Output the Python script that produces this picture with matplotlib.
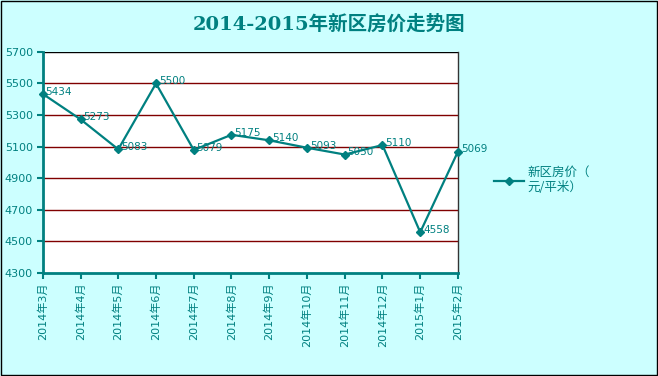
import matplotlib.pyplot as plt
from matplotlib.patches import Rectangle

plt.rcParams['font.family'] = ['DejaVu Sans', 'Noto Sans CJK SC']

months = ['2014年3月', '2014年4月', '2014年5月', '2014年6月', '2014年7月', '2014年8月',
          '2014年9月', '2014年10月', '2014年11月', '2014年12月', '2015年1月', '2015年2月']
prices = [5434, 5273, 5083, 5500, 5079, 5175, 5140, 5093, 5050, 5110, 4558, 5069]
yticks = [4300, 4500, 4700, 4900, 5100, 5300, 5500, 5700]

teal = '#008080'
bg = '#CCFFFF'
grid_c = '#800000'

fig = plt.figure(figsize=(6.58, 3.76), dpi=100, facecolor=bg)
fig.patches.append(Rectangle((0.002, 0.003), 0.996, 0.994, transform=fig.transFigure,
                             fill=False, edgecolor='black', linewidth=1.0))

ax = fig.add_axes([0.065, 0.274, 0.631, 0.588])
ax.set_facecolor('white')
x = list(range(len(months)))
ax.plot(x, prices, color=teal, linewidth=1.6, marker='D', markersize=4, zorder=3, clip_on=False,
        label='新区房价（\n元/平米）')
for xi, v in zip(x, prices):
    ax.annotate(str(v), (xi, v), xytext=(2, 1.5), textcoords='offset points',
                fontsize=7.5, color=teal, va='center', ha='left', annotation_clip=False)

ax.set_xlim(0, len(months) - 1)
ax.set_ylim(4300, 5700)
ax.set_yticks(yticks)
ax.set_yticklabels([str(t) for t in yticks], fontsize=8, color=teal)
ax.set_xticks(x)
ax.set_xticklabels(months, rotation=90, fontsize=8, color=teal,
                   family=['DejaVu Sans', 'Noto Sans CJK SC'])
for t in yticks[1:-1]:
    ax.axhline(t, color=grid_c, linewidth=1, zorder=1)
ax.axhline(5700, color='black', linewidth=1, zorder=1)
ax.tick_params(axis='both', direction='out', length=4, width=1.5, color=teal, pad=3)
ax.spines['left'].set_color(teal)
ax.spines['left'].set_linewidth(2)
ax.spines['bottom'].set_color(teal)
ax.spines['bottom'].set_linewidth(2)
ax.spines['top'].set_visible(False)
ax.spines['right'].set_color('#333333')
ax.spines['right'].set_linewidth(1)

fig.text(0.5, 0.935, '2014-2015年新区房价走势图', ha='center', va='center', fontsize=14,
         fontweight='bold', color=teal, family=['DejaVu Serif', 'Noto Sans CJK SC'])

leg = ax.legend(loc='center left', bbox_to_anchor=(1.06, 0.42), frameon=False,
                handlelength=2.4, handletextpad=0.3,
                prop={'family': ['Noto Sans CJK SC'], 'size': 9})
for t in leg.get_texts():
    t.set_color(teal)

fig.savefig('out.png', dpi=100, facecolor=bg)
